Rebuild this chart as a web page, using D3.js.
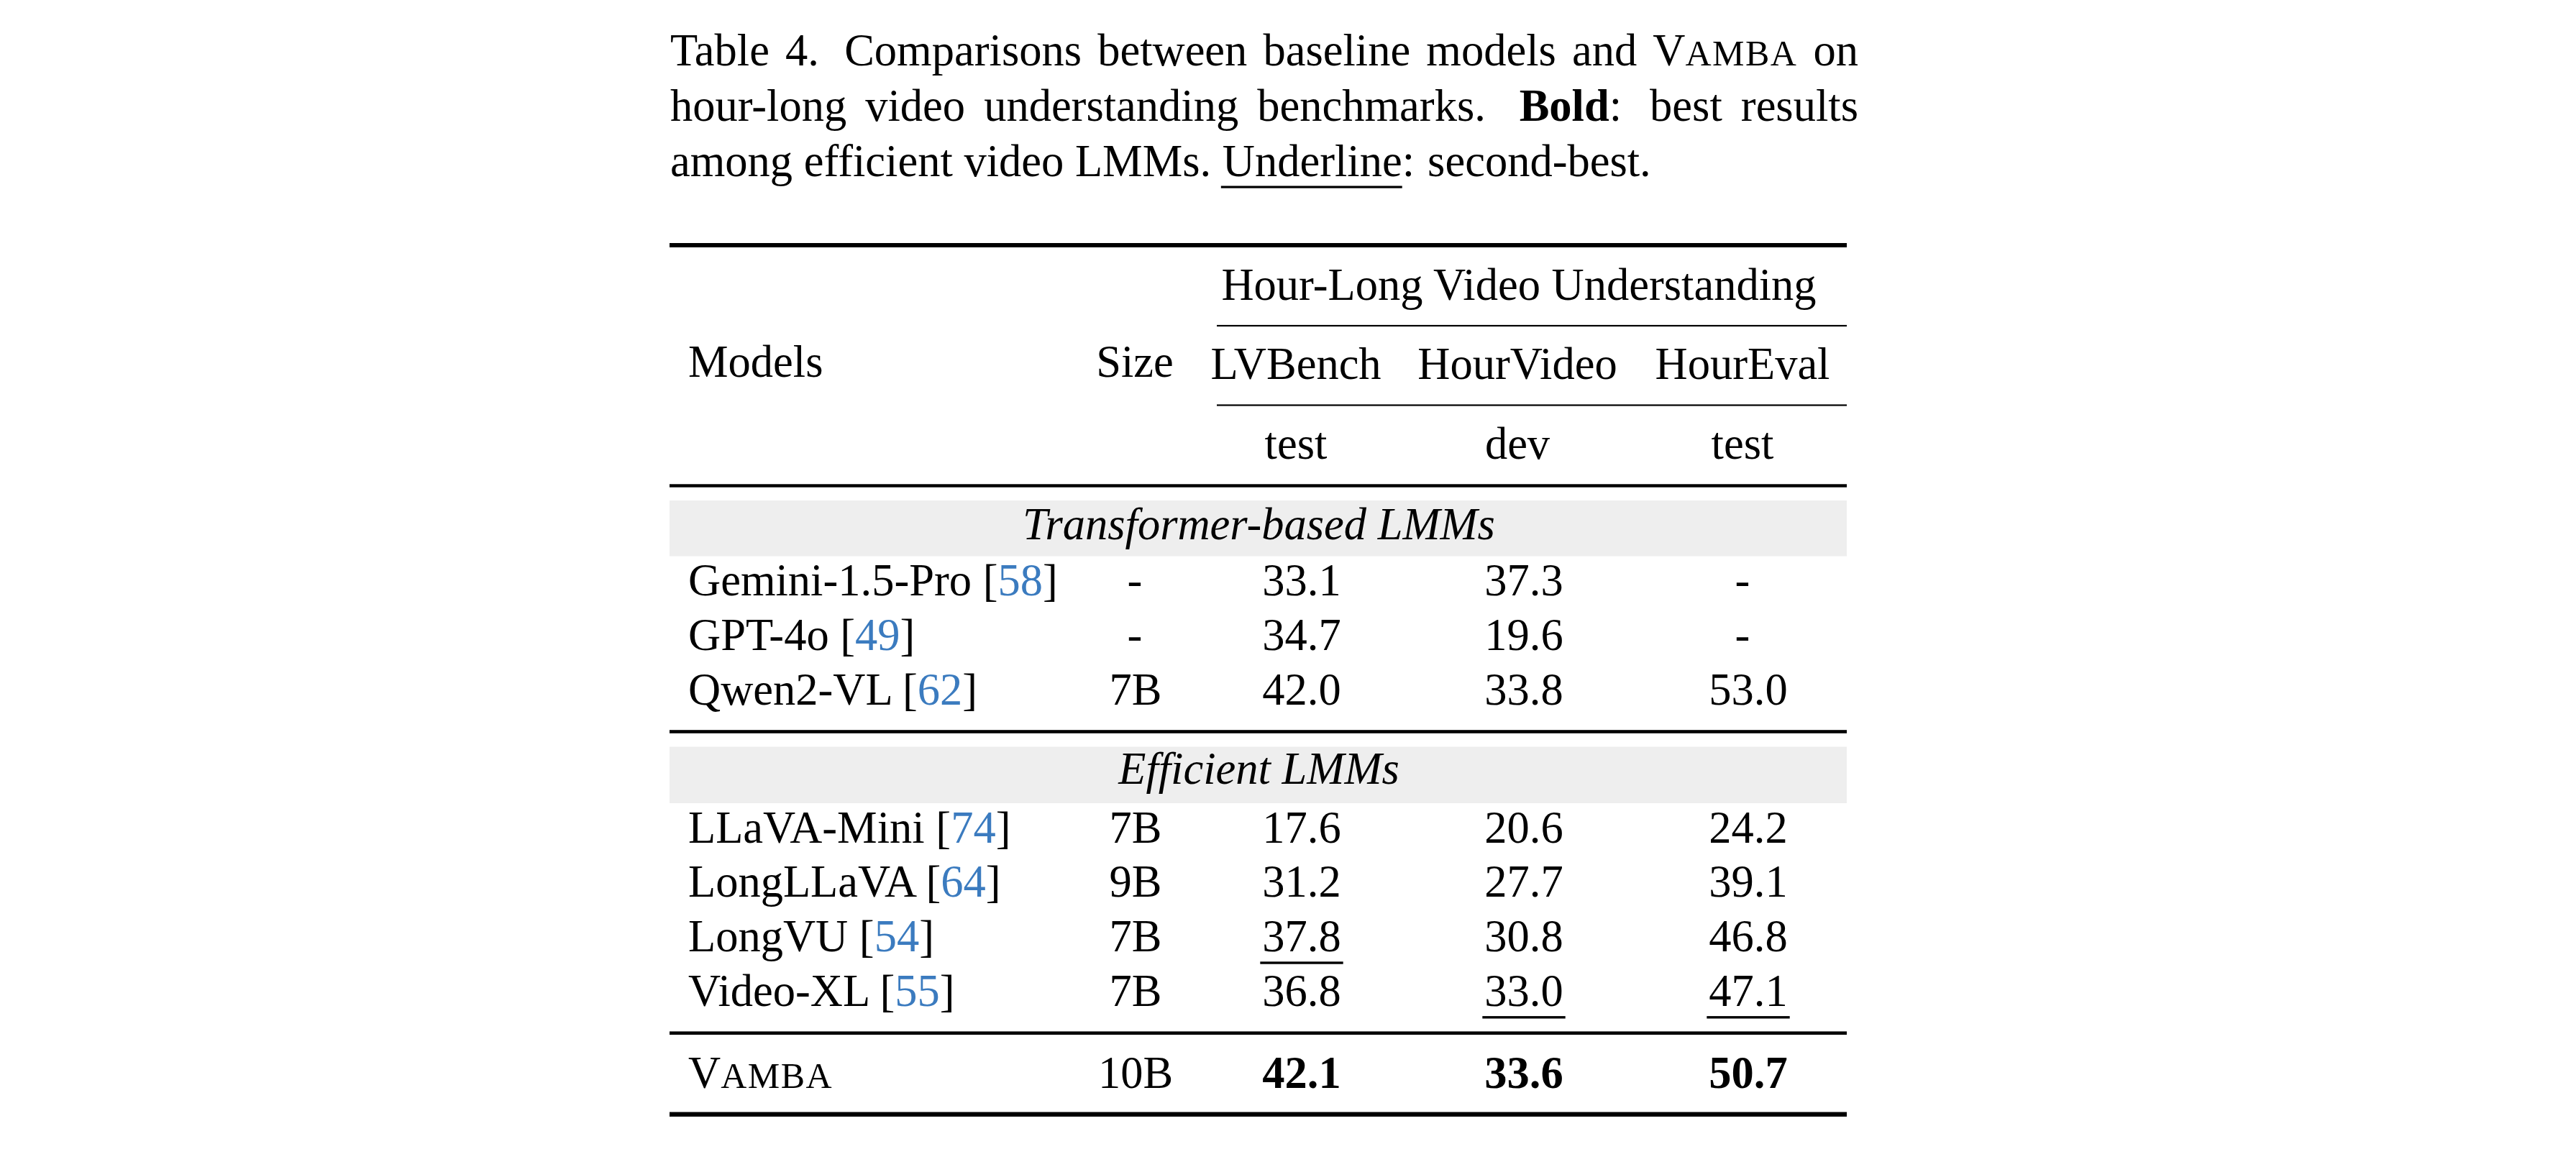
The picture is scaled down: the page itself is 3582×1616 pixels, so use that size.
<!DOCTYPE html>
<html>
<head>
<meta charset="utf-8">
<script src="https://cdn.jsdelivr.net/npm/d3@7"></script>
<style>
  html, body { margin: 0; padding: 0; background: #ffffff; }
  svg { display: block; }
  text { font-family: "Liberation Serif", "Times New Roman", Times, serif; fill: #000; }
</style>
</head>
<body>
<svg id="chart" width="3582" height="1616"></svg>
<script>
// ---------------- data ----------------
const groups = ["Transformer-based LMMs", "Efficient LMMs"];
const models = ["Gemini-1.5-Pro", "GPT-4o", "Qwen2-VL", "LLaVA-Mini", "LongLLaVA", "LongVU", "Video-XL", "VAMBA"];
const modelGroup = [0, 0, 0, 1, 1, 1, 1, 2];
const cites = ["58", "49", "62", "74", "64", "54", "55", null];
const sizes = ["-", "-", "7B", "7B", "9B", "7B", "7B", "10B"];
const lvbench = [33.1, 34.7, 42.0, 17.6, 31.2, 37.8, 36.8, 42.1];
const hourvideo = [37.3, 19.6, 33.8, 20.6, 27.7, 30.8, 33.0, 33.6];
const houreval = [null, null, 53.0, 24.2, 39.1, 46.8, 47.1, 50.7];
const benchmarks = ["LVBench", "HourVideo", "HourEval"];
const splits = ["test", "dev", "test"];
const superHeader = "Hour-Long Video Understanding";

// ---------------- layout ----------------
const svg = d3.select("#chart");
svg.append("rect").attr("width", 3582).attr("height", 1616).attr("fill", "#fff");

const FS = 62.5;
const BLUE = "#3b7bbf";
const tableL = 931, tableR = 2568;
const capL = 932, capR = 2584;

const colKeys = ["size", "lv", "hv", "he"];
const headerX = d3.scaleOrdinal().domain(colKeys).range([1578, 1802, 2110, 2423]);
const valueX = d3.scaleOrdinal().domain(colKeys).range([1579, 1810, 2119, 2431]);
const dashX = headerX;

// row baselines
const groupFirst = [828, 1171.5, 1512.7];
const pitch = 75.8;
const rowIdx = modelGroup.map((g, i) => modelGroup.slice(0, i).filter(v => v === g).length);
const rowY = i => groupFirst[modelGroup[i]] + rowIdx[i] * pitch;

// ---------------- caption ----------------
const capLines = [
  { y: 90.7, justify: true, words: [
    [{t: "Table"}], [{t: "4."}], [{t: "Comparisons"}], [{t: "between"}], [{t: "baseline"}],
    [{t: "models"}], [{t: "and"}], [{t: "V"}, {t: "AMBA", sc: true}], [{t: "on"}]],
    weights: [1, 1.6, 1, 1, 1, 1, 1, 1] },
  { y: 167.7, justify: true, words: [
    [{t: "hour-long"}], [{t: "video"}], [{t: "understanding"}], [{t: "benchmarks."}],
    [{t: "Bold", b: true}, {t: ":"}], [{t: "best"}], [{t: "results"}]],
    weights: [1, 1, 1, 1.8, 1.5, 1] },
  { y: 244.5, justify: false, words: [
    [{t: "among"}], [{t: "efficient"}], [{t: "video"}], [{t: "LMMs."}],
    [{t: "Underline", u: true}, {t: ":"}], [{t: "second-best."}]],
    weights: [1, 1, 1, 1, 1.15] }
];

const capG = svg.append("g");
capLines.forEach(line => {
  const nodes = line.words.map(parts => {
    const t = capG.append("text").attr("y", line.y).attr("font-size", FS);
    parts.forEach(p => {
      const ts = t.append("tspan").text(p.t);
      if (p.b) ts.attr("font-weight", "bold");
      if (p.sc) ts.attr("font-size", FS * 0.8).attr("letter-spacing", 1.5);
    });
    return t;
  });
  const widths = nodes.map(n => n.node().getComputedTextLength());
  const total = d3.sum(widths);
  const wsum = d3.sum(line.weights);
  const gap = line.justify ? (capR - capL - total) / wsum : FS * 0.25;
  let x = capL;
  nodes.forEach((n, i) => {
    n.attr("x", x);
    line.words[i].forEach((p, k) => {
      if (p.u) {
        const tsp = n.selectAll("tspan").nodes()[k];
        const w = tsp.getComputedTextLength();
        capG.append("rect").attr("x", x - 2).attr("y", line.y + 14)
          .attr("width", w + 2).attr("height", 3.2).attr("fill", "#000");
      }
    });
    x += widths[i] + (i < line.weights.length ? gap * line.weights[i] : 0);
  });
});

// ---------------- table ----------------
const tg = svg.append("g");

function hrule(y, th, x0 = tableL, x1 = tableR) {
  tg.append("rect").attr("x", x0).attr("y", y - th / 2).attr("width", x1 - x0).attr("height", th).attr("fill", "#000");
}

// group bands
const bands = [{y0: 696, y1: 773.5, text: groups[0], base: 750}, {y0: 1038.5, y1: 1117, text: groups[1], base: 1089.5}];
bands.forEach(b => {
  tg.append("rect").attr("x", tableL).attr("y", b.y0).attr("width", tableR - tableL).attr("height", b.y1 - b.y0).attr("fill", "#eeeeee");
  tg.append("text").attr("x", (tableL + tableR) / 2 + 1).attr("y", b.base).attr("text-anchor", "middle")
    .attr("font-size", FS).attr("font-style", "italic").text(b.text);
});

// rules
hrule(341, 6);
hrule(453, 2.2, 1692, tableR);
hrule(563.5, 2.2, 1692, tableR);
hrule(675.5, 4.4);
hrule(1017.5, 4.6);
hrule(1436.7, 4.6);
hrule(1549.7, 6.4);

// headers
tg.append("text").attr("x", 2112).attr("y", 416.7).attr("text-anchor", "middle").attr("font-size", FS).text(superHeader);
tg.append("text").attr("x", 957).attr("y", 524).attr("font-size", FS).text("Models");
tg.append("text").attr("x", headerX("size")).attr("y", 523.5).attr("text-anchor", "middle").attr("font-size", FS).text("Size");
["lv", "hv", "he"].forEach((k, i) => {
  tg.append("text").attr("x", headerX(k)).attr("y", 527.3).attr("text-anchor", "middle").attr("font-size", FS).text(benchmarks[i]);
  tg.append("text").attr("x", headerX(k)).attr("y", 638.3).attr("text-anchor", "middle").attr("font-size", FS).text(splits[i]);
});

// model names
models.forEach((m, i) => {
  const t = tg.append("text").attr("x", 957).attr("y", rowY(i)).attr("font-size", FS);
  if (m === "VAMBA") {
    t.append("tspan").text("V");
    t.append("tspan").attr("font-size", FS * 0.8).attr("letter-spacing", 1.5).text("AMBA");
  } else {
    t.append("tspan").text(m + " [");
    t.append("tspan").attr("fill", BLUE).style("fill", BLUE).text(cites[i]);
    t.append("tspan").text("]");
  }
});

// sizes
sizes.forEach((s, i) => {
  tg.append("text").attr("x", s === "-" ? dashX("size") : valueX("size")).attr("y", rowY(i))
    .attr("text-anchor", "middle").attr("font-size", FS).text(s);
});

// values with best / second-best among efficient LMMs
const series = [{k: "lv", v: lvbench}, {k: "hv", v: hourvideo}, {k: "he", v: houreval}];
series.forEach(s => {
  const eff = s.v.map((v, i) => ({v, i})).filter(d => modelGroup[d.i] >= 1 && d.v !== null)
    .sort((a, b) => b.v - a.v);
  const best = eff[0].i, second = eff[1].i;
  s.v.forEach((v, i) => {
    const t = tg.append("text").attr("y", rowY(i)).attr("text-anchor", "middle").attr("font-size", FS);
    if (v === null) {
      t.attr("x", dashX(s.k)).text("-");
      return;
    }
    t.attr("x", valueX(s.k)).text(v.toFixed(1));
    if (i === best) t.attr("font-weight", "bold");
    if (i === second) {
      const w = t.node().getComputedTextLength();
      tg.append("rect").attr("x", valueX(s.k) - w / 2 - 3).attr("y", rowY(i) + 14.2)
        .attr("width", w + 6).attr("height", 3.4).attr("fill", "#000");
    }
  });
});
</script>
</body>
</html>
